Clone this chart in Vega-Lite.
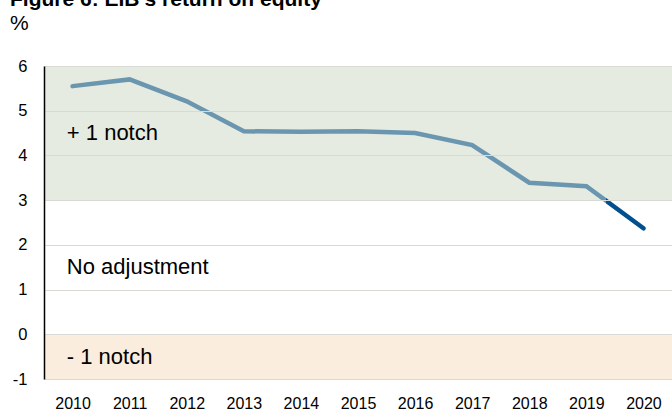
{
  "$schema": "https://vega.github.io/schema/vega-lite/v6.json",
  "width": 628,
  "height": 313,
  "autosize": {"type": "none"},
  "padding": {"left": 44, "top": 66, "right": 0, "bottom": 30},
  "background": "white",
  "title": {
    "text": "Figure 6: EIB's return on equity",
    "subtitle": "%",
    "anchor": "start",
    "frame": "group",
    "dx": -34,
    "offset": 24,
    "font": "Liberation Sans",
    "fontSize": 21,
    "fontWeight": "bold",
    "color": "black",
    "subtitleFont": "Liberation Sans",
    "subtitleFontSize": 21,
    "subtitleColor": "black",
    "subtitlePadding": 3
  },
  "config": {
    "view": {"stroke": null},
    "font": "Liberation Sans",
    "axis": {"labelFont": "Liberation Sans", "labelFontSize": 16, "labelColor": "black", "title": null}
  },
  "layer": [
    {
      "data": {"values": [
        {"zone": "+ 1 notch", "lo": 3, "hi": 6},
        {"zone": "- 1 notch", "lo": -1, "hi": 0}
      ]},
      "mark": {"type": "rect"},
      "encoding": {
        "y": {"field": "lo", "type": "quantitative",
          "scale": {"domain": [-1, 6], "nice": false, "zero": false},
          "axis": {"values": [-1, 0, 1, 2, 3, 4, 5, 6], "labelExpr": "'' + datum.value", "grid": true, "gridColor": "#d8dbd5", "gridWidth": 1.2,
            "domain": true, "domainColor": "black", "domainWidth": 1.5, "ticks": false, "labelPadding": 17, "labelFontSize": 16.5, "zindex": 1}},
        "y2": {"field": "hi"},
        "color": {"field": "zone", "type": "nominal",
          "scale": {"domain": ["+ 1 notch", "- 1 notch"], "range": ["#e6ebe1", "#fbeddd"]}, "legend": null}
      }
    },
    {
      "mark": {"type": "rule", "color": "#7a6a58", "strokeWidth": 1.5},
      "encoding": {"y": {"datum": 0}}
    },
    {
      "data": {"values": [
        {"year": 2010, "roe": 5.55},
        {"year": 2011, "roe": 5.70},
        {"year": 2012, "roe": 5.21},
        {"year": 2013, "roe": 4.54},
        {"year": 2014, "roe": 4.53},
        {"year": 2015, "roe": 4.54},
        {"year": 2016, "roe": 4.50},
        {"year": 2017, "roe": 4.23},
        {"year": 2018, "roe": 3.39},
        {"year": 2019, "roe": 3.31},
        {"year": 2020, "roe": 2.37}
      ]},
      "mark": {
        "type": "line",
        "strokeWidth": 4.5,
        "strokeCap": "round",
        "stroke": {
          "gradient": "linear", "x1": 0, "y1": 0, "x2": 1, "y2": 0,
          "stops": [
            {"offset": 0, "color": "#6a96b0"},
            {"offset": 0.935, "color": "#6a96b0"},
            {"offset": 0.935, "color": "#004f8f"},
            {"offset": 1, "color": "#004f8f"}
          ]
        }
      },
      "encoding": {
        "x": {"field": "year", "type": "quantitative",
          "scale": {"domain": [2009.5, 2020.5], "nice": false, "zero": false},
          "axis": {"values": [2010, 2011, 2012, 2013, 2014, 2015, 2016, 2017, 2018, 2019, 2020], "format": "d",
            "grid": false, "domain": false, "ticks": false, "labelPadding": 16}},
        "y": {"field": "roe", "type": "quantitative"}
      }
    },
    {
      "data": {"values": [
        {"label": "+ 1 notch", "x": 2009.9, "y": 4.5},
        {"label": "No adjustment", "x": 2009.9, "y": 1.5},
        {"label": "- 1 notch", "x": 2009.9, "y": -0.5}
      ]},
      "mark": {"type": "text", "align": "left", "baseline": "middle", "fontSize": 22, "font": "Liberation Sans", "color": "black"},
      "encoding": {
        "x": {"field": "x", "type": "quantitative"},
        "y": {"field": "y", "type": "quantitative"},
        "text": {"field": "label"}
      }
    }
  ]
}
